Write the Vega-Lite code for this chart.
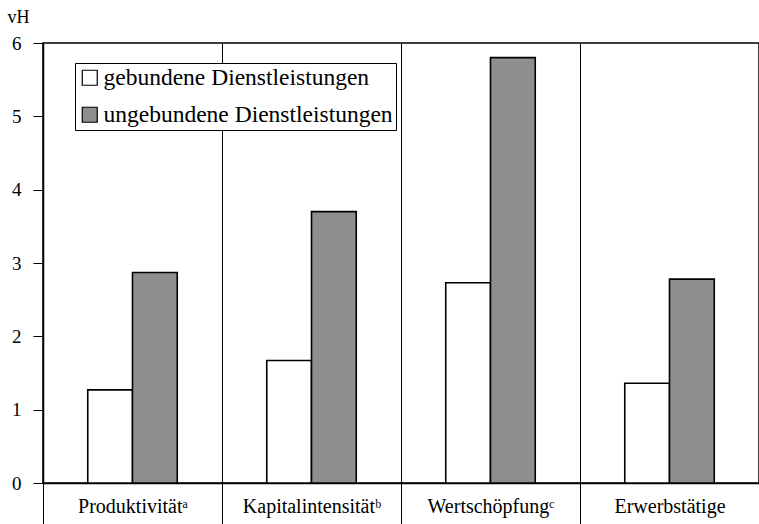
{
  "$schema": "https://vega.github.io/schema/vega-lite/v6.json",
  "width": 716,
  "height": 440,
  "autosize": "none",
  "padding": {"left": 43, "top": 43, "right": 0, "bottom": 41},
  "background": "white",
  "config": {"view": {"stroke": "black", "strokeWidth": 1.5}},
  "data": {
    "values": [
      {"Kategorie": "Produktivität", "Art": "gebundene Dienstleistungen", "vH": 1.27},
      {"Kategorie": "Produktivität", "Art": "ungebundene Dienstleistungen", "vH": 2.87},
      {"Kategorie": "Kapitalintensität", "Art": "gebundene Dienstleistungen", "vH": 1.67},
      {"Kategorie": "Kapitalintensität", "Art": "ungebundene Dienstleistungen", "vH": 3.70},
      {"Kategorie": "Wertschöpfung", "Art": "gebundene Dienstleistungen", "vH": 2.73},
      {"Kategorie": "Wertschöpfung", "Art": "ungebundene Dienstleistungen", "vH": 5.80},
      {"Kategorie": "Erwerbstätige", "Art": "gebundene Dienstleistungen", "vH": 1.36},
      {"Kategorie": "Erwerbstätige", "Art": "ungebundene Dienstleistungen", "vH": 2.78}
    ]
  },
  "mark": {"type": "bar", "stroke": "black", "strokeWidth": 1.6},
  "encoding": {
    "x": {
      "field": "Kategorie",
      "type": "nominal",
      "sort": ["Produktivität", "Kapitalintensität", "Wertschöpfung", "Erwerbstätige"],
      "scale": {"paddingInner": 0, "paddingOuter": 0},
      "axis": {
        "title": null,
        "labelAngle": 0,
        "tickBand": "extent",
        "tickSize": 41,
        "tickColor": "black",
        "tickWidth": 1,
        "grid": true,
        "gridColor": "black",
        "gridWidth": 1,
        "gridOpacity": 1,
        "domainColor": "black",
        "domainWidth": 1.5,
        "labelFont": "Liberation Serif, Noto Sans",
        "labelFontSize": 20,
        "labelColor": "black",
        "labelPadding": -28,
        "labelLimit": 200,
        "labelExpr": "datum.value == 'Produktivität' ? 'Produktivitätᵃ' : datum.value == 'Kapitalintensität' ? 'Kapitalintensitätᵇ' : datum.value == 'Wertschöpfung' ? 'Wertschöpfungᶜ' : datum.value"
      }
    },
    "xOffset": {
      "field": "Art",
      "type": "nominal",
      "sort": ["gebundene Dienstleistungen", "ungebundene Dienstleistungen"],
      "scale": {"paddingInner": 0, "paddingOuter": 1}
    },
    "y": {
      "field": "vH",
      "type": "quantitative",
      "scale": {"domain": [0, 6], "nice": false},
      "axis": {
        "title": "vH",
        "titleAngle": 0,
        "titleAlign": "left",
        "titleBaseline": "alphabetic",
        "titleX": -36,
        "titleY": -21,
        "titleFont": "Liberation Serif",
        "titleFontSize": 18,
        "titleFontWeight": "normal",
        "titleColor": "black",
        "values": [0, 1, 2, 3, 4, 5, 6],
        "grid": false,
        "tickSize": 10,
        "tickColor": "black",
        "domainColor": "black",
        "domainWidth": 1.5,
        "labelPadding": 12,
        "labelFont": "Liberation Serif",
        "labelFontSize": 19,
        "labelColor": "black"
      }
    },
    "fill": {
      "field": "Art",
      "type": "nominal",
      "scale": {
        "domain": ["gebundene Dienstleistungen", "ungebundene Dienstleistungen"],
        "range": ["white", "#8f8f8f"]
      },
      "legend": {
        "title": null,
        "orient": "none",
        "legendX": 32,
        "legendY": 20,
        "fillColor": "white",
        "strokeColor": "black",
        "padding": 3,
        "rowPadding": 12,
        "symbolType": "square",
        "symbolSize": 225,
        "symbolStrokeColor": "black",
        "symbolStrokeWidth": 1.2,
        "labelFont": "Liberation Serif",
        "labelFontSize": 23.5,
        "labelColor": "black",
        "labelOffset": 2,
        "labelLimit": 400
      }
    }
  }
}
